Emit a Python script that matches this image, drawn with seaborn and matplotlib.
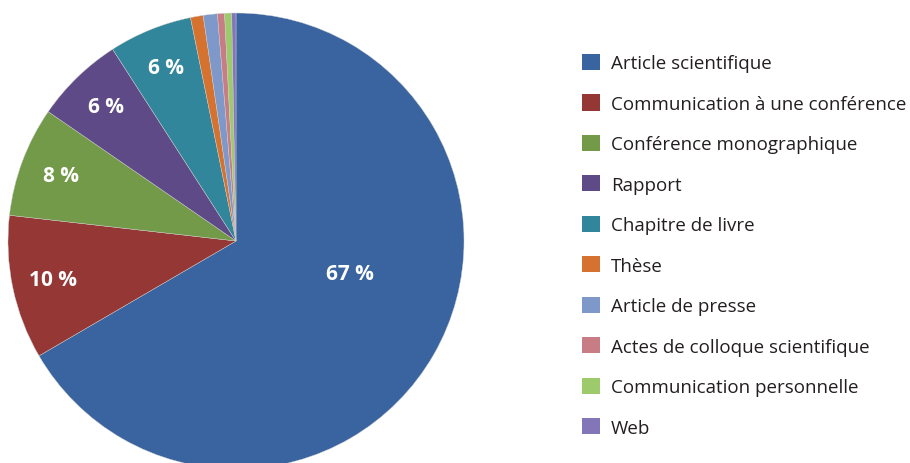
import numpy as np
import matplotlib
matplotlib.use("Agg")
import matplotlib.pyplot as plt
import seaborn as sns
from matplotlib.patches import Patch

# données
categories = ["Article scientifique", "Communication à une conférence",
              "Conférence monographique", "Rapport", "Chapitre de livre",
              "Thèse", "Article de presse", "Actes de colloque scientifique",
              "Communication personnelle", "Web"]
parts = [66.6, 10.2, 7.8, 6.3, 5.9, 0.9, 1.0, 0.5, 0.5, 0.3]
couleurs = ["#3A64A0", "#953735", "#729A48", "#5E4A86", "#31869B",
            "#D6722F", "#7D98C9", "#C77D83", "#9DCB6B", "#8276B9"]

sns.set_theme(style="white")
plt.rcParams['font.family'] = ['Open Sans', 'DejaVu Sans']

fig = plt.figure(figsize=(9.10, 4.64), dpi=100)
ax = fig.add_axes([8/910, -6/464, 456/910, 456/464])

wedges, textes, pcts = ax.pie(parts, colors=couleurs, startangle=90, counterclock=False,
                              radius=1, autopct=lambda p: f"{p:.0f} %" if p >= 5 else "",
                              pctdistance=0.82,
                              wedgeprops=dict(edgecolor="#d0d0d0", linewidth=0.3),
                              textprops=dict(color="white", fontsize=15, fontweight="bold"))
# étiquette du grand secteur plus proche du centre
ang = np.deg2rad(-16)
pcts[0].set_position((0.52 * np.cos(ang), 0.52 * np.sin(ang)))
ax.set_xlim(-1, 1)
ax.set_ylim(-1, 1)
ax.set_aspect("equal")
ax.axis("off")

poignees = [Patch(facecolor=c, edgecolor="none") for c in couleurs]
fig.legend(poignees, categories, loc="upper left", bbox_to_anchor=(565/910, 1 - 38/464),
           frameon=False, fontsize=13.5, handlelength=0.95, handleheight=0.95,
           labelspacing=1.17, handletextpad=0.6, labelcolor="#231F20")

fig.savefig("out.png", dpi=100)
